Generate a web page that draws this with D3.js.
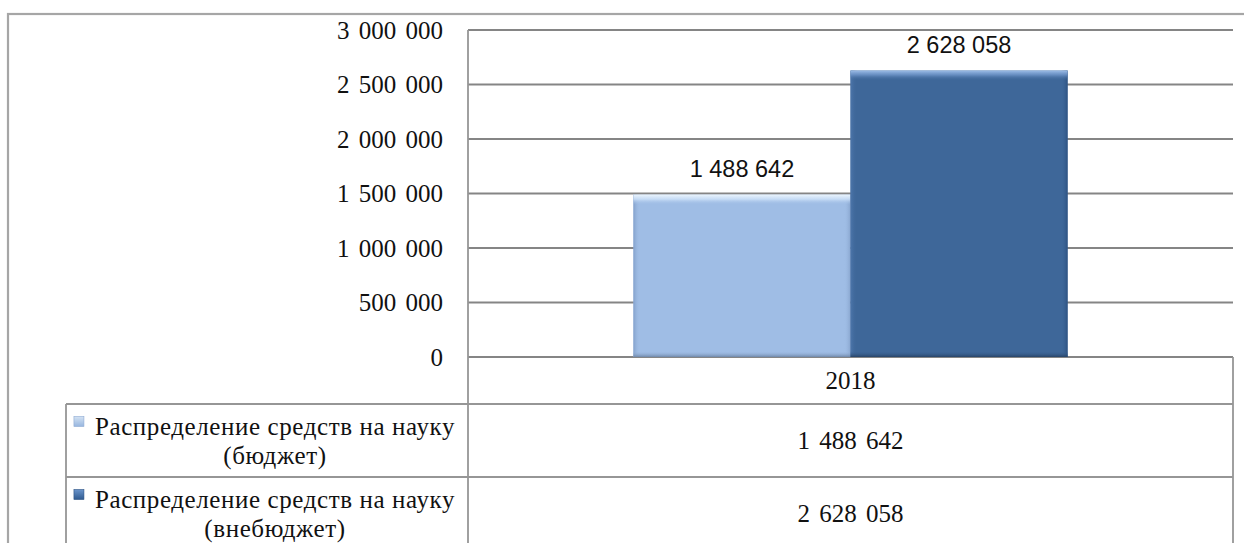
<!DOCTYPE html>
<html>
<head>
<meta charset="utf-8">
<script src="https://cdn.jsdelivr.net/npm/d3@7"></script>
<style>
  html, body { margin: 0; padding: 0; background: #fff; }
  svg { display: block; }
</style>
</head>
<body>
<svg id="chart" width="1244" height="543"></svg>
<script>
// ---- data ----
const categories = ["2018"];
const seriesNames = ["Распределение средств на науку (бюджет)", "Распределение средств на науку (внебюджет)"];
const budgetValues = [1488642];
const extraBudgetValues = [2628058];
const yTickValues = [0, 500000, 1000000, 1500000, 2000000, 2500000, 3000000];
const seriesValues = [budgetValues, extraBudgetValues];

// ---- layout ----
const W = 1244, H = 543;
const plot = { left: 468, right: 1233, top: 30, bottom: 357 };
const table = { left: 66, rows: [357, 404, 477, 550] };
const SERIF = "Liberation Serif";
const SANS = "Liberation Sans";

const locale = d3.formatLocale({ decimal: ",", thousands: " ", grouping: [3], currency: ["", ""] });
const fmt = locale.format(",d");

const svg = d3.select("#chart");
const defs = svg.append("defs");

function grad(id, horiz, stops) {
  const g = defs.append("linearGradient").attr("id", id)
    .attr("x1", 0).attr("y1", 0).attr("x2", horiz ? 1 : 0).attr("y2", horiz ? 0 : 1);
  stops.forEach(s => g.append("stop").attr("offset", s[0]).attr("stop-color", s[1]).attr("stop-opacity", s[2] == null ? 1 : s[2]));
}
const colors = ["#9fbde5", "#3e6799"];
grad("top0", false, [[0, "#eaf4fd"], [0.45, "#cde1f8", 0.85], [1, "#9fbde5", 0]]);
grad("top1", false, [[0, "#9dbde7"], [0.45, "#6f95c9", 0.8], [1, "#3e6799", 0]]);
grad("side0", true, [[0, "#7f9dc8", 0.9], [0.03, "#9fbde5", 0], [0.97, "#9fbde5", 0], [1, "#86a3cc", 0.9]]);
grad("side1", true, [[0, "#4f78ad", 0.9], [0.03, "#3e6799", 0], [0.97, "#3e6799", 0], [1, "#2b4f7e", 0.9]]);
grad("bot0", false, [[0, "#9fbde5", 0], [1, "#6f87a8"]]);
grad("bot1", false, [[0, "#3e6799", 0], [1, "#284468"]]);
grad("key0", false, [[0, "#d3e2f3"], [1, "#97b6df"]]);
grad("key1", false, [[0, "#6a94cb"], [1, "#2f5a90"]]);

// outer frame
svg.append("rect").attr("x", 8).attr("y", 14).attr("width", W + 20).attr("height", H + 20)
  .attr("fill", "none").attr("stroke", "#a6a6a6").attr("stroke-width", 2.2);

// scales
const y = d3.scaleLinear().domain([0, 3000000]).range([plot.bottom, plot.top]);
const x0 = d3.scaleBand().domain(categories).range([plot.left, plot.right]).paddingInner(0).paddingOuter(0);
const x1 = d3.scaleBand().domain(d3.range(seriesValues.length)).range([0, x0.bandwidth()]).paddingInner(0).paddingOuter(0.762);

// gridlines
svg.append("g").selectAll("line").data(yTickValues).join("line")
  .attr("x1", plot.left).attr("x2", plot.right)
  .attr("y1", d => y(d)).attr("y2", d => y(d))
  .attr("stroke", "#858585").attr("stroke-width", 1.8);

// y axis labels
const yAxis = d3.axisLeft(y).tickValues(yTickValues).tickFormat(fmt).tickSize(0).tickPadding(25);
const gy = svg.append("g").attr("transform", `translate(${plot.left},0)`).call(yAxis)
  .attr("font-family", SERIF).attr("font-size", 25);
gy.select(".domain").remove();
gy.selectAll("text").attr("fill", "#111").style("word-spacing", "3px");

// bars
const barG = svg.append("g");
categories.forEach((cat, ci) => {
  seriesValues.forEach((vals, si) => {
    const bx = x0(cat) + x1(si), bw = x1.bandwidth();
    const by = y(vals[ci]), bh = y(0) - y(vals[ci]);
    const g = barG.append("g");
    g.append("rect").attr("x", bx).attr("y", by).attr("width", bw).attr("height", bh).attr("fill", colors[si]);
    g.append("rect").attr("x", bx).attr("y", by).attr("width", bw).attr("height", bh).attr("fill", `url(#side${si})`);
    g.append("rect").attr("x", bx).attr("y", by).attr("width", bw).attr("height", 10).attr("fill", `url(#top${si})`);
    g.append("rect").attr("x", bx).attr("y", y(0) - 6).attr("width", bw).attr("height", 6).attr("fill", `url(#bot${si})`);
    g.append("text").attr("font-family", SANS).attr("x", bx + bw / 2).attr("y", by - 18)
      .attr("text-anchor", "middle").attr("font-size", 23.5).attr("fill", "#111")
      .text(fmt(vals[ci]));
  });
});

// table lines
const tl = svg.append("g").attr("stroke", "#969696").attr("stroke-width", 1.8).attr("fill", "none");
tl.append("line").attr("x1", plot.left).attr("x2", plot.left).attr("y1", plot.top).attr("y2", H + 10);
tl.append("line").attr("x1", plot.right).attr("x2", plot.right).attr("y1", table.rows[0]).attr("y2", H + 10);
tl.append("line").attr("x1", table.left).attr("x2", table.left).attr("y1", table.rows[1]).attr("y2", H + 10);
tl.selectAll("line.h").data(table.rows.slice(1)).join("line").attr("class", "h")
  .attr("x1", table.left).attr("x2", plot.right).attr("y1", d => d).attr("y2", d => d);

// header: category labels
svg.append("g").selectAll("text").data(categories).join("text").attr("font-family", SERIF)
  .attr("x", d => x0(d) + x0.bandwidth() / 2)
  .attr("y", (table.rows[0] + table.rows[1]) / 2).attr("dy", "0.35em")
  .attr("text-anchor", "middle").attr("font-size", 25).attr("fill", "#111")
  .text(d => d);

// rows: legend + values
const legendCx = 275;
seriesNames.forEach((name, si) => {
  const top = table.rows[si + 1], bottom = table.rows[si + 2];
  const mid = (top + bottom) / 2;
  const idx = name.indexOf(" (");
  const lines = [name.slice(0, idx), name.slice(idx + 1)];
  const l1y = mid - 14, l2y = mid + 15;
  const t1 = svg.append("text").attr("font-family", SERIF).attr("x", legendCx).attr("y", l1y).attr("dy", "0.35em")
    .attr("text-anchor", "middle").attr("font-size", 25).attr("fill", "#111")
    .style("letter-spacing", "0.6px")
    .text(lines[0]);
  svg.append("text").attr("font-family", SERIF).attr("x", legendCx).attr("y", l2y).attr("dy", "0.35em")
    .attr("text-anchor", "middle").attr("font-size", 25).attr("fill", "#111")
    .style("letter-spacing", "0.6px")
    .text(lines[1]);
  const tw = t1.node().getComputedTextLength();
  svg.append("rect").attr("x", legendCx - tw / 2 - 21).attr("y", l1y - 10).attr("width", 10).attr("height", 10)
    .attr("fill", `url(#key${si})`).attr("stroke", si ? "#2c5283" : "#8eaad2").attr("stroke-width", 0.6);
  categories.forEach((cat, ci) => {
    svg.append("text").attr("font-family", SERIF).attr("x", x0(cat) + x0.bandwidth() / 2).attr("y", mid).attr("dy", "0.35em")
      .attr("text-anchor", "middle").attr("font-size", 25).attr("fill", "#111")
      .style("word-spacing", "3px")
      .text(fmt(seriesValues[si][ci]));
  });
});
</script>
</body>
</html>
